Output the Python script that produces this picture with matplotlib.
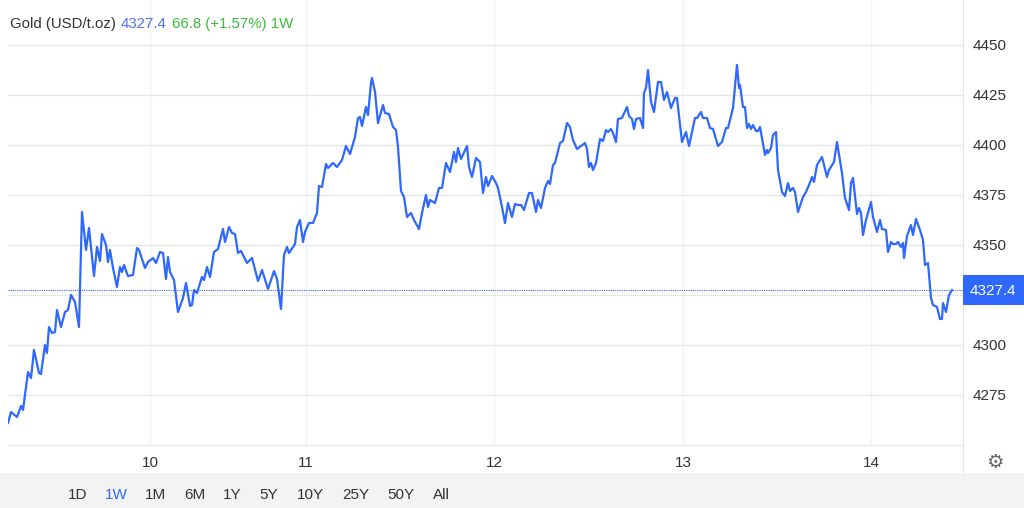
import matplotlib
matplotlib.use("Agg")
import matplotlib.pyplot as plt
from matplotlib.patches import Rectangle

plt.rcParams['font.family'] = ['Liberation Sans', 'DejaVu Sans']

# -----------------------------
# Data (positions along the trading-time axis, prices in USD/t.oz)
# -----------------------------
t_pos = [8, 11, 17, 21, 23, 28, 31, 34, 39, 41, 45, 47, 49, 52, 55, 57, 61, 65, 68, 71,
         75, 79, 82, 86, 89, 94, 97, 100, 102, 106, 108, 110, 113, 117, 120, 122, 124, 128, 133, 137,
         139, 145, 148, 153, 156,
         160, 163, 166, 168, 170, 174, 178, 183, 186, 190, 192, 194, 197, 202, 204, 207, 210, 214, 218, 223,
         225, 229, 232, 235, 238, 241, 247, 252, 258, 262, 268, 274, 277, 281, 284, 287, 289, 295, 297, 300,
         303, 305, 309, 313, 317, 319, 322,
         326, 328, 333, 337, 342, 346, 350, 355, 358, 360, 362, 366, 368, 371, 372, 375, 378, 383, 385, 389,
         393, 396, 398, 401, 404, 407, 411, 414, 419, 422, 426, 428, 430, 435, 439, 442, 446, 450, 454, 456,
         458, 461, 467, 469, 472, 476, 478,
         480, 483, 486, 488, 492, 496, 498, 502, 505, 508, 512, 515, 518, 521, 524, 529, 532, 536, 538, 541,
         545, 548, 550, 553, 555, 560, 563, 567, 570, 573, 577, 581, 585, 587, 589, 591, 593, 596, 600, 603,
         606, 608, 611, 613, 616, 618, 622, 627, 629, 632, 634, 636,
         640, 643, 644, 646, 648, 651, 654, 658, 661, 664, 667, 671, 675, 677, 682, 686, 689, 695, 697, 701,
         703, 707, 710, 713, 718, 722, 726, 728, 733, 737, 739, 740, 743, 745, 747, 749, 751, 753, 756, 758,
         760, 762, 765, 767, 768, 771, 773, 776, 778, 782, 785, 788, 790, 793, 795, 798,
         803, 806, 809, 812, 814, 817, 822, 827, 829, 834, 837, 842, 845, 849, 851, 853, 857, 859, 861, 863,
         866, 871, 873, 877, 880, 882, 886, 888, 891, 893, 896, 898, 901, 903, 904, 907, 911, 913, 916, 920,
         923, 925, 928, 931, 933, 937, 940, 942, 943, 946, 949, 952]

price = [4261, 4266.5, 4264, 4269.5, 4267.5, 4286.5, 4283.5, 4297.5, 4286, 4285.5, 4300, 4296, 4309, 4306, 4306.5, 4317.5, 4309, 4316.5, 4317.5, 4325,
         4321.5, 4309, 4366.5, 4347.5, 4358.5, 4334.5, 4349, 4342, 4355.5, 4350, 4341.5, 4347.5, 4338.5, 4329, 4339, 4336.5, 4340, 4334.5, 4335, 4348.5,
         4347.5, 4338.5, 4341.5, 4343.5, 4341,
         4346.5, 4346, 4333, 4344, 4336.5, 4332.5, 4316.5, 4323.5, 4331, 4319.5, 4320, 4327.5, 4326, 4334, 4332.5, 4339, 4334, 4346.5, 4348, 4358,
         4351.5, 4359, 4356, 4355.5, 4346, 4347, 4341, 4343.5, 4332, 4337.5, 4328, 4337, 4333, 4318, 4345, 4349, 4346, 4350.5, 4359, 4362.5,
         4351.5, 4356.5, 4361, 4361, 4366, 4379.5, 4379,
         4390.5, 4388.5, 4391, 4389, 4392.5, 4399.5, 4395.5, 4404, 4413.5, 4414, 4409.5, 4419, 4415, 4431, 4433.5, 4426.5, 4411, 4420, 4416, 4415.5,
         4409, 4407.5, 4399, 4377, 4374, 4364, 4366, 4362.5, 4358, 4366, 4375, 4369, 4372.5, 4371, 4378.5, 4378.5, 4391, 4386.5, 4396.5, 4391.5,
         4398.5, 4393, 4399.5, 4389, 4384, 4393.5, 4392.5,
         4391.5, 4376, 4384, 4379.5, 4384.5, 4381, 4378.5, 4369, 4361, 4371, 4364, 4370.5, 4370, 4370, 4367.5, 4376, 4376, 4366.5, 4372.5, 4368.5,
         4378.5, 4382, 4380.5, 4390, 4391, 4401, 4402, 4411, 4409, 4402.5, 4398, 4399.5, 4401, 4398, 4389, 4391, 4387.5, 4391, 4403, 4402,
         4407.5, 4406.5, 4408, 4406, 4401.5, 4413, 4413.5, 4419, 4414.5, 4413, 4408, 4413,
         4413.5, 4408.5, 4426, 4428.5, 4437.5, 4421.5, 4416.5, 4431.5, 4431.5, 4422.5, 4426.5, 4418.5, 4423.5, 4423.5, 4401.5, 4406.5, 4399.5, 4413.5, 4413.5, 4416.5,
         4413.5, 4413.5, 4408.5, 4408, 4399.5, 4401.5, 4408.5, 4408.5, 4418.5, 4440, 4428.5, 4430, 4419, 4419, 4408.5, 4410.5, 4408, 4410, 4407, 4407,
         4409, 4403.5, 4395, 4397.5, 4396, 4398.5, 4405, 4406.5, 4387.5, 4376.5, 4374.5, 4381, 4377, 4378.5, 4376.5, 4366.5,
         4374, 4376.5, 4380, 4384, 4381.5, 4390, 4394, 4384, 4387.5, 4391.5, 4401.5, 4386, 4373.5, 4367.5, 4381, 4383.5, 4365.5, 4368.5, 4366, 4355,
         4362.5, 4371.5, 4364, 4356.5, 4362.5, 4358, 4357.5, 4346.5, 4351.5, 4350.5, 4350.5, 4351.5, 4349, 4351, 4343.5, 4354.5, 4360, 4355, 4363, 4357.5,
         4352.5, 4340, 4341, 4323.5, 4320, 4319, 4313, 4313, 4321, 4316.5, 4325, 4327.4]

day_ticks = [150, 306, 494, 683, 871]
day_labels = ["10", "11", "12", "13", "14"]
y_ticks = [4275, 4300, 4325, 4350, 4375, 4400, 4425, 4450]
last_price = 4327.4
ranges = ["1D", "1W", "1M", "6M", "1Y", "5Y", "10Y", "25Y", "50Y", "All"]
range_x = [78, 116, 156, 195, 232, 269, 310, 356, 401, 441]

LINE = "#2e68ff"
W, H = 1024, 508

fig = plt.figure(figsize=(W / 100, H / 100), dpi=100)
fig.patch.set_facecolor("white")

# bottom range bar
fig.add_artist(Rectangle((0, 0), 1, 35 / H, transform=fig.transFigure,
                         facecolor="#f3f3f3", edgecolor="none", zorder=0))
for lab, px in zip(ranges, range_x):
    fig.text(px / W, 1 - 495 / H, lab, ha="center", va="center", fontsize=11,
             color="#2e68ff" if lab == "1W" else "#333333")

ax = fig.add_axes([8 / W, 1 - 445 / H, (963 - 8) / W, 445 / H])
ax.plot(t_pos, price, color=LINE, lw=1.6, zorder=3)
ax.axhline(last_price, color=LINE, lw=0.8, ls=(0, (1, 1)), zorder=2)

ax.set_xlim(8, 963)
ax.set_ylim(4250, 4472.5)
ax.set_xticks(day_ticks)
ax.set_xticklabels(day_labels)
ax.set_yticks(y_ticks)
# the 4325 label sits under the last-price badge
ax.set_yticklabels(["" if v == 4325 else str(v) for v in y_ticks])
ax.yaxis.tick_right()
ax.tick_params(axis="both", length=0, labelsize=11, colors="#333333")
ax.tick_params(axis="y", pad=7)
ax.tick_params(axis="x", pad=8)
ax.grid(axis="y", color="#e6e6e6", lw=1)
for px in day_ticks:
    ax.axvline(px, color="#eef3f9", lw=1, zorder=1)
for s in ["top", "left"]:
    ax.spines[s].set_visible(False)
ax.spines["bottom"].set_color("#e6e6e6")
ax.spines["right"].set_color("#e6e6e6")

# right edge line continuing into the axis label band
fig.add_artist(plt.Line2D([963 / W, 963 / W], [1 - 472 / H, 1 - 445 / H],
                          transform=fig.transFigure, color="#e6e6e6", lw=1))

# last price badge
fig.add_artist(Rectangle((963 / W, 1 - 305 / H), 61 / W, 30 / H, transform=fig.transFigure,
                         facecolor="#2e68ff", edgecolor="none", zorder=5))
fig.text(993 / W, 1 - 291 / H, f"{last_price}", ha="center", va="center",
         fontsize=11, color="white", zorder=6)

# header
fig.text(10 / W, 1 - 24 / H, "Gold (USD/t.oz)", ha="left", va="center", fontsize=10.8, color="#333333")
fig.text(121 / W, 1 - 24 / H, "4327.4", ha="left", va="center", fontsize=10.8, color="#4f72f5")
fig.text(172 / W, 1 - 24 / H, "66.8 (+1.57%) 1W", ha="left", va="center", fontsize=10.8, color="#3dbb3d")

# settings gear
fig.text(995 / W, 1 - 462 / H, "\u2699", ha="center", va="center", fontsize=14,
         color="#666666", family="DejaVu Sans")

fig.savefig("out.png", dpi=100)
